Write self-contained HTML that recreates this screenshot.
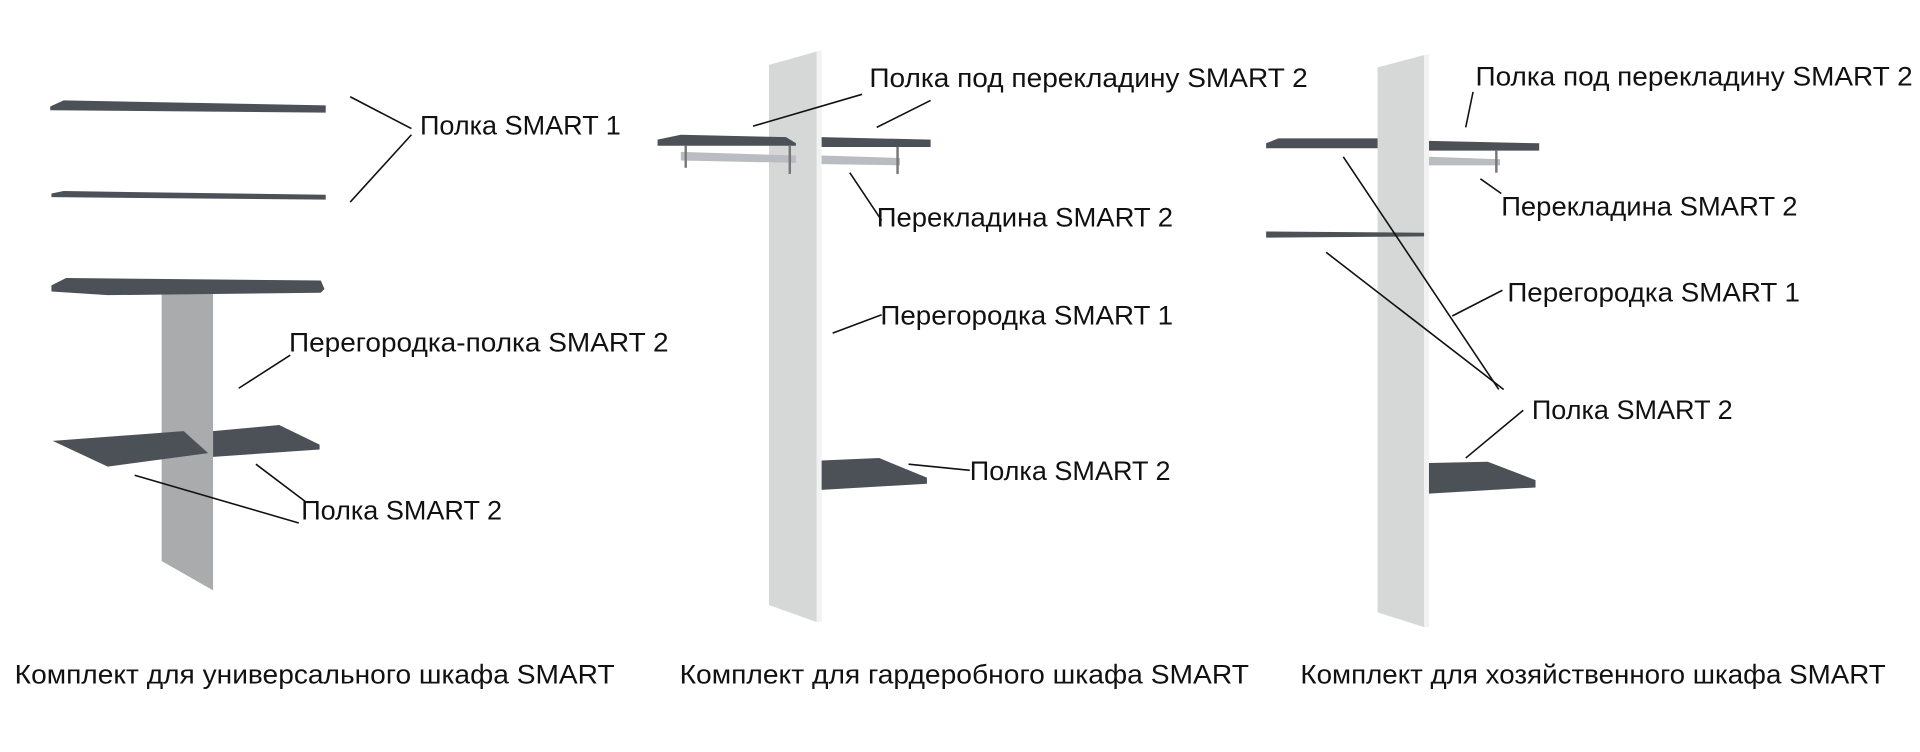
<!DOCTYPE html>
<html><head><meta charset="utf-8"><style>
html,body{margin:0;padding:0;background:#fff;width:1920px;height:752px;overflow:hidden}
svg{display:block}
text{font-family:"Liberation Sans",sans-serif;font-size:22px;fill:#111}
line{stroke:#111;stroke-width:1.3}
.d{fill:#4b5156}.l{fill:#a9abad}.p{fill:#d6d8d8}.e{fill:#f2f2f2}.r{fill:#b9bcc0}
</style></head><body>
<svg width="1920" height="752" viewBox="0 0 1568 614" preserveAspectRatio="none">
<!-- LEFT -->
<polygon class="d" points="41,87 52,82 266,86 266,92 41,90"/>
<polygon class="d" points="42,158 52,156 266,159 266,163 42,161"/>
<polygon class="l" points="132,240 174,240 174,482 132,458"/>
<polygon class="d" points="42,233 54,227 262,229 265,236 262,239 88,241 42,238"/>
<polygon class="d" points="43,360 150,352 170,370 88,381"/>
<polygon class="d" points="174,352 228,347 261,363 261,367 174,373"/>
<text x="343" y="110" textLength="164" lengthAdjust="spacingAndGlyphs">Полка SMART 1</text>
<line x1="286" y1="79" x2="336" y2="105"/><line x1="336" y1="110" x2="286" y2="165"/>
<text x="236" y="287" textLength="310" lengthAdjust="spacingAndGlyphs">Перегородка-полка SMART 2</text>
<line x1="237" y1="290" x2="195" y2="317"/>
<text x="246" y="424" textLength="164" lengthAdjust="spacingAndGlyphs">Полка SMART 2</text>
<line x1="110" y1="388" x2="244" y2="427"/><line x1="209" y1="379" x2="250" y2="410"/>
<!-- MIDDLE -->
<polygon class="p" points="628,53 667,42 667,508 628,494"/>
<polygon class="e" points="667,42 671,41 671,508 667,508"/>
<polygon class="d" points="537,114 556,110 642,112 650,117 650,119 537,119"/>
<polygon class="d" points="671,112 760,114 760,120 671,120"/>
<polygon class="r" points="556,124 650,127 650,133 556,131"/>
<polygon class="r" points="671,127 735,129 735,135 671,134"/>
<line x1="560" y1="119" x2="560" y2="137" style="stroke:#777;stroke-width:2"/>
<line x1="645" y1="119" x2="645" y2="142" style="stroke:#777;stroke-width:2"/>
<line x1="733" y1="120" x2="733" y2="142" style="stroke:#777;stroke-width:2"/>
<polygon class="d" points="671,376 718,374 757,390 757,395 671,400"/>
<text x="710" y="71" textLength="358" lengthAdjust="spacingAndGlyphs">Полка под перекладину SMART 2</text>
<line x1="615" y1="103" x2="704" y2="77"/><line x1="716" y1="104" x2="760" y2="82"/>
<text x="716" y="185" textLength="242" lengthAdjust="spacingAndGlyphs">Перекладина SMART 2</text>
<line x1="694" y1="141" x2="720" y2="180"/>
<text x="719" y="265" textLength="239" lengthAdjust="spacingAndGlyphs">Перегородка SMART 1</text>
<line x1="680" y1="272" x2="720" y2="257"/>
<text x="792" y="392" textLength="164" lengthAdjust="spacingAndGlyphs">Полка SMART 2</text>
<line x1="742" y1="379" x2="792" y2="384"/>
<!-- RIGHT -->
<polygon class="p" points="1125,55 1163,45 1163,512 1125,500"/>
<polygon class="e" points="1163,45 1167,44 1167,512 1163,512"/>
<polygon class="d" points="1034,117 1044,113 1125,113 1125,121 1034,121"/>
<polygon class="d" points="1167,115 1257,117 1257,123 1167,123"/>
<polygon class="r" points="1167,128 1225,130 1225,135 1167,135"/>
<line x1="1222" y1="123" x2="1222" y2="141" style="stroke:#777;stroke-width:2"/>
<polygon class="d" points="1034,189 1163,190 1163,193 1034,194"/>
<polygon class="d" points="1167,378 1215,377 1254,392 1254,398 1167,403"/>
<text x="1205" y="70" textLength="357" lengthAdjust="spacingAndGlyphs">Полка под перекладину SMART 2</text>
<line x1="1203" y1="75" x2="1197" y2="104"/>
<text x="1226" y="176" textLength="242" lengthAdjust="spacingAndGlyphs">Перекладина SMART 2</text>
<line x1="1209" y1="146" x2="1226" y2="158"/>
<text x="1231" y="246" textLength="239" lengthAdjust="spacingAndGlyphs">Перегородка SMART 1</text>
<line x1="1186" y1="258" x2="1227" y2="237"/>
<text x="1251" y="342" textLength="164" lengthAdjust="spacingAndGlyphs">Полка SMART 2</text>
<line x1="1097" y1="128" x2="1224" y2="318"/><line x1="1083" y1="206" x2="1228" y2="318"/>
<line x1="1197" y1="374" x2="1244" y2="335"/>
<!-- CAPTIONS -->
<text x="12" y="558" textLength="490" lengthAdjust="spacingAndGlyphs">Комплект  для универсального шкафа SMART</text>
<text x="555" y="558" textLength="465" lengthAdjust="spacingAndGlyphs">Комплект для гардеробного шкафа  SMART</text>
<text x="1062" y="558" textLength="478" lengthAdjust="spacingAndGlyphs">Комплект для хозяйственного шкафа SMART</text>
</svg>
</body></html>
